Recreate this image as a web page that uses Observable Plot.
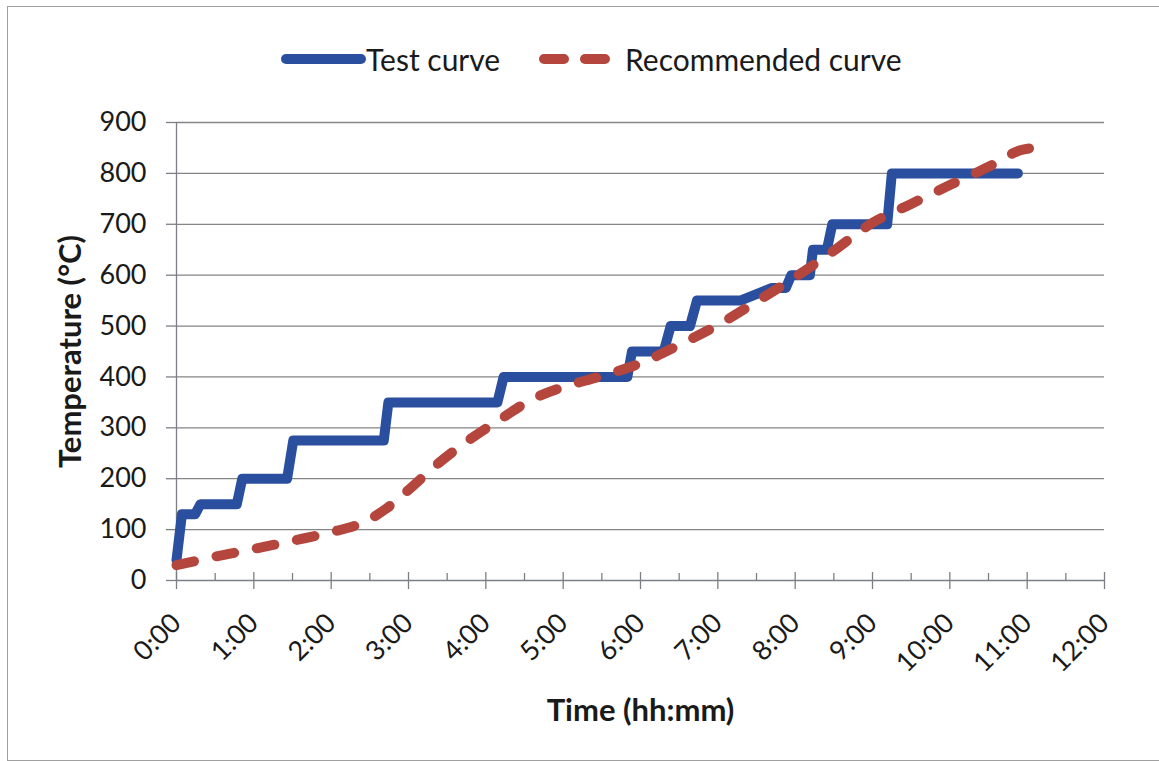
<!DOCTYPE html>
<html><head><meta charset="utf-8">
<script src="https://cdn.jsdelivr.net/npm/d3@7"></script>
<script src="https://cdn.jsdelivr.net/npm/@observablehq/plot@0.6"></script>
<style>
html,body{margin:0;padding:0;background:#fff;}
body{width:1159px;height:761px;overflow:hidden;position:relative;font-family:Lato,"Liberation Sans",sans-serif;color:#1a1a1a;}
#frame{position:absolute;left:7px;top:6px;width:1160px;height:753px;border:1.5px solid #a0a0a0;pointer-events:none;}
#legend{height:92px;position:relative;}
.item{position:absolute;top:42px;height:34px;display:flex;align-items:center;font-size:30px;line-height:34px;}
.item svg{display:block;}
#chart svg{display:block;}
</style></head>
<body>
<div id="frame"></div>
<div id="legend"></div>
<div id="chart"></div>
<script>
// Series names and colours
const seriesNames = ["Test curve", "Recommended curve"];
const seriesColors = ["#2b4f9f", "#b4463e"];

// Test curve (time in hours, temperature in °C)
const testTime = [0, 0.07, 0.24, 0.31, 0.78, 0.85, 1.43, 1.51, 2.68, 2.74, 4.15, 4.23, 5.83, 5.89, 6.30, 6.39, 6.64, 6.73, 7.29, 7.70, 7.88, 7.95, 8.19, 8.23, 8.41, 8.48, 9.19, 9.25, 10.88];
const testTemp = [40, 130, 130, 150, 150, 200, 200, 275, 275, 350, 350, 400, 400, 450, 450, 500, 500, 550, 550, 575, 575, 600, 600, 650, 650, 700, 700, 800, 800];

// Recommended curve
const recTime = [0, 0.5, 1.0, 1.5, 2.0, 2.4, 2.7, 3.0, 3.4, 3.8, 4.2, 4.6, 5.0, 5.5, 6.0, 6.5, 7.0, 7.5, 8.0, 8.5, 9.0, 9.5, 10.0, 10.5, 10.9, 11.1, 11.25];
const recTemp = [30, 47, 62, 78, 95, 113, 140, 178, 232, 278, 318, 356, 380, 402, 427, 463, 502, 548, 596, 648, 703, 740, 777, 813, 845, 850, 850];

// Axes
const yTicks = [0, 100, 200, 300, 400, 500, 600, 700, 800, 900];
const xTicks = [0, 1, 2, 3, 4, 5, 6, 7, 8, 9, 10, 11, 12];
const xMinor = [0.5, 1.5, 2.5, 3.5, 4.5, 5.5, 6.5, 7.5, 8.5, 9.5, 10.5, 11.5];
const xLabels = ["0:00","1:00","2:00","3:00","4:00","5:00","6:00","7:00","8:00","9:00","10:00","11:00","12:00"];
const yTitle = "Temperature (°C)";
const xTitle = "Time (hh:mm)";

const test = testTime.map((t, i) => ({t, v: testTemp[i]}));
const rec = recTime.map((t, i) => ({t, v: recTemp[i]}));

// Legend
const legend = document.getElementById("legend");
legend.innerHTML = `
<div class="item" style="left:281px">
  <svg width="85" height="20"><line x1="5" y1="10" x2="80" y2="10" stroke="${seriesColors[0]}" stroke-width="10" stroke-linecap="round"/></svg>
  <span>${seriesNames[0]}</span>
</div>
<div class="item" style="left:539px">
  <svg width="86" height="20"><line x1="5" y1="10" x2="76" y2="10" stroke="${seriesColors[1]}" stroke-width="10" stroke-linecap="round" stroke-dasharray="20,21"/></svg>
  <span>${seriesNames[1]}</span>
</div>`;

const axisColor = "#7c7f86";
const gridColor = "#858585";

const chart = Plot.plot({
  width: 1159,
  height: 669,
  marginTop: 30,
  marginLeft: 176,
  marginRight: 55,
  marginBottom: 181,
  x: {domain: [0, 12], axis: null, label: null},
  y: {domain: [0, 900], axis: null, label: null},
  style: {fontFamily: "Lato, 'Liberation Sans', sans-serif", fontSize: "27px", color: "#1a1a1a", background: "transparent", overflow: "visible"},
  marks: [
    Plot.gridY(yTicks.filter(d => d > 0), {stroke: gridColor, strokeOpacity: 1, strokeWidth: 1.3}),
    Plot.axisY(yTicks, {tickSize: 10, tickPadding: 20, stroke: axisColor, strokeWidth: 1.3, label: null, fontSize: 27, tickFormat: d => String(d)}),
    Plot.ruleX([0], {stroke: axisColor, strokeWidth: 1.3}),
    Plot.ruleY([0], {stroke: axisColor, strokeWidth: 1.3}),
    Plot.ruleX(xTicks, {x: d => d, y1: 0, y2: 0, insetTop: -8, insetBottom: -9, stroke: axisColor, strokeWidth: 1.3}),
    Plot.ruleX(xMinor, {x: d => d, y1: 0, y2: 0, insetTop: -7, insetBottom: 0, stroke: axisColor, strokeWidth: 1.3}),
    Plot.text(xTicks, {x: d => d, frameAnchor: "bottom", text: (d, i) => xLabels[i], rotate: -45, textAnchor: "end", lineAnchor: "middle", dx: 0, dy: 38, fontSize: 27}),
    Plot.line(test, {x: "t", y: "v", stroke: seriesColors[0], strokeWidth: 10, strokeLinejoin: "round", strokeLinecap: "round"}),
    Plot.line(rec, {x: "t", y: "v", curve: "catmull-rom", stroke: seriesColors[1], strokeWidth: 10, strokeDasharray: "18,23", strokeLinecap: "round"}),
    Plot.text([yTitle], {frameAnchor: "left", rotate: -90, textAnchor: "middle", lineAnchor: "middle", dx: -105, fontWeight: "bold", fontSize: 31}),
    Plot.text([xTitle], {frameAnchor: "bottom", textAnchor: "middle", lineAnchor: "middle", dy: 131, fontWeight: "bold", fontSize: 31})
  ]
});
document.getElementById("chart").appendChild(chart);
</script>
</body></html>
